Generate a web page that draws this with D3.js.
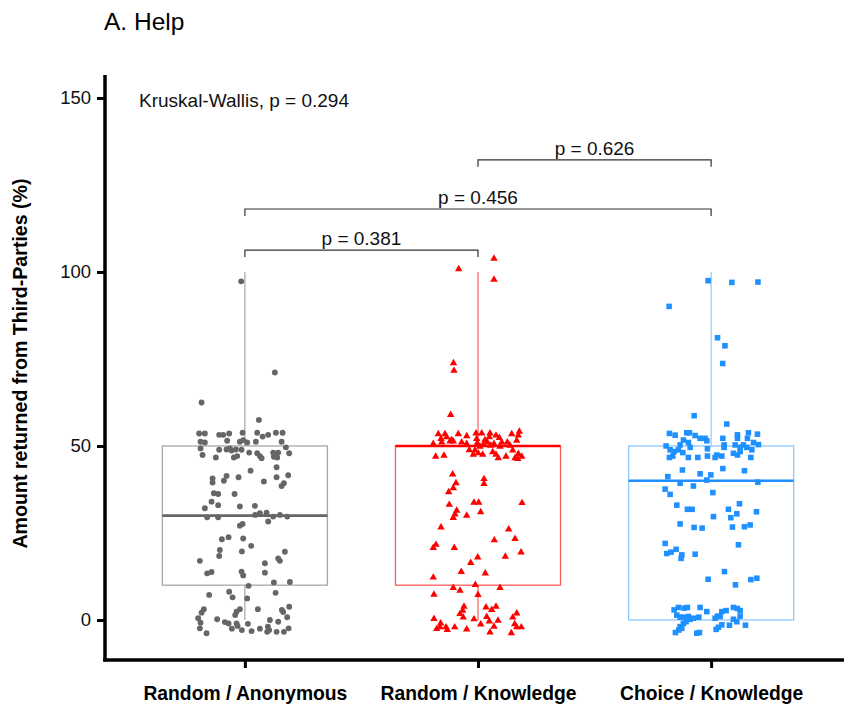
<!DOCTYPE html>
<html><head><meta charset="utf-8">
<script src="https://cdn.jsdelivr.net/npm/d3@7"></script>
<style>body{margin:0;background:#fff;} text{font-family:"Liberation Sans",Arial,Helvetica,sans-serif;}</style>
</head><body>
<svg id="chart" width="844" height="706"></svg>
<script>
// ---------- data ----------
const categories = ["Random / Anonymous", "Random / Knowledge", "Choice / Knowledge"];
const pointColors = ["#666666", "#FF0000", "#1E90FF"];
const boxColors = ["#a6a6a6", "#ff5c5c", "#8ec8ff"];
const boxLow = [0, 0, 0];
const boxQ1 = [10, 10, 0];
const boxMedian = [30, 50, 40];
const boxQ3 = [50, 50, 50];
const boxHigh = [100, 100, 100];
const yTicks = [0, 50, 100, 150];
const yLabel = "Amount returned from Third-Parties (%)";
const title = "A. Help";
const kruskal = "Kruskal-Wallis, p = 0.294";
// pairwise comparisons: [from, to, label, bracket height]
const comparisons = [[0, 1, "p = 0.381", 106.3], [0, 2, "p = 0.456", 118.1], [1, 2, "p = 0.626", 132.2]];

// points: [jitter (units: -50..50), value]
const pointsAnon = [[-3.7,97.3],[30,71.1],[-43.3,62.5],[14,57.5],[-45.7,53.6],[-40,53.6],[-25.7,53.2],[-21.7,53.2],[-15.7,53.6],[-2.3,53.8],[12.3,53.8],[17.7,52.7],[23.3,53.2],[31,53.8],[37.7,53.8],[-44.3,51.2],[-40,51.0],[-17.7,51.5],[-5,51.2],[-1.7,51.7],[2.3,51.0],[11,51.2],[36.7,51.2],[-44.3,49.3],[-25.7,48.9],[-18.3,49.0],[-15,49.3],[-9,49.0],[-3.3,48.9],[4.3,48.1],[12.3,47.9],[15,47.1],[28.3,48.1],[33.3,48.1],[41,49.6],[44.3,47.9],[-42.3,47.4],[-29,46.7],[-11,46.7],[-7.7,47.1],[16.7,46.5],[29,46.9],[32.3,46.7],[-13.3,48.7],
[31.7,43.9],[-32.3,40.7],[-32.3,39.5],[-18.3,41.4],[-21,40.0],[-6.3,41.0],[5.7,42.9],[19,39.8],[31.7,41.0],[43.3,41.6],[36.7,38.5],[39,39.3],[-31,36.4],[-26.7,36.2],[-10.3,36.2],[-33.3,34.0],[-26.7,33.0],[-40,32.1],[-5,32.6],[10,32.8],[-37.7,29.5],[-26.7,29.5],[10.3,30.2],[15,30.7],[21.7,30.8],[23.3,28.3],[28.3,29.7],[35,30.2],[42.3,29.7],
[-5,27.1],[-2.3,27.6],[-23,23.2],[-16.3,23.8],[-1.7,23.4],[6.3,21.3],[-25,20.1],[-25.7,18.4],[-3,19.7],[-45,17.0],[40,19.6],[33.3,17.7],[35,17.0],[-37.7,13.4],[-33.3,13.8],[-3.3,13.9],[-1.7,12.8],[20,16.3],[20,13.6],[29,10.8],[45,10.9],[3.7,9.8],[-35.7,7.2],[-15.7,8.1],[-12.3,6.5],[2.3,6.2],[30.7,7.8],
[-41,3.1],[-43.3,2.1],[-5,3.1],[-8.3,2.4],[-9.7,1.4],[13,3.1],[37,2.9],[38.3,2.3],[44.3,3.8],[-46.7,0.5],[-44.3,-0.8],[-27.7,0.2],[-20,-0.6],[-16.3,-1.0],[-8.3,-1.0],[-7.3,-1.7],[3,-1.1],[15,-2.5],[23,-1.9],[25,0],[33.3,-0.5],[42.3,0.8],[-45,-2.4],[-38.3,-3.8],[-13,-2.5],[-3,-2.9],[6.7,-3.2],[22.3,-3.4],[31.7,-3.4],[39,-3.4],[43.7,-2.4],[24.3,-2.9]];

const pointsRandKnow = [[16,104],[-19.3,101],[16,98],[-24.5,74],[-24,71.8],[-27.3,59.1],
[-39.7,53.6],[-33,53.6],[-19.7,53.6],[-11.3,53.0],[-2,53.8],[3.7,53.8],[12,53.8],[18,53.2],[33.7,53.6],[41.3,54.3],[-37,52.2],[-31.3,52.7],[-26.3,51.9],[-36.3,51.2],[-28,51.5],[-24.7,51.5],[-16.3,51.2],[-11.3,50.8],[-1.3,52.2],[7,51.9],[9.3,51.2],[11.3,52.7],[21.3,52.5],[23.7,51.2],[29.3,51.2],[38.7,51.7],[40.3,53.2],[-44.7,50.8],[-0.7,51.0],[2,50.0],[5.3,50.6],[12.7,50.3],[16,50.8],[22,50.0],[32,50.3],[-8.7,49.0],[-3,48.9],[0.3,48.1],[4.7,47.7],[14.7,48.4],[18,47.7],[20.3,46.7],[28,47.1],[34.7,48.9],[37,46.7],[40.3,47.9],[43.7,47.1],[-42.3,47.1],[-34,47.4],[-4.7,47.7],[39.7,46.5],
[-25.3,42.0],[6,40.7],[6,39.3],[-22,39.5],[-24.7,38.1],[-29.3,36.9],[-28.7,33.3],[-4,33.9],[0.7,33.9],[44,33.8],[-21.3,31.6],[2.7,31.2],[-23,30.5],[-24.7,29.5],[-11.3,30.2],[-37,26.8],[30.7,26.2],[37,23.5],[-42,21.8],[-44.7,20.9],[-23.7,20.9],[16.3,23.1],[43,19.6],[27.3,18.4],[-0.3,18.2],[-7.3,16.6],[-16.7,14.0],[7.3,13.6],[-44.7,12.4],
[-24.7,9.4],[-18,8.6],[-2.7,10.3],[22,9.4],[0,7.4],[-44,7.5],
[-14,4.0],[-15.3,2.9],[-18,1.9],[-14.7,0.9],[8,3.8],[18,4.0],[13.7,3.1],[8.7,1.1],[38.7,2.1],[34.7,0.9],[-44,0.5],[-37.3,-0.8],[-38,-1.9],[-32,-1.9],[-30.7,-2.7],[-41.3,-2.4],[-23.3,-1.9],[-11.3,-2.5],[-4,0.4],[2.7,-1.1],[11.3,-0.2],[20,0],[16,-1.7],[12,-3.4],[36.7,-1.0],[38.7,-1.9],[43.3,-1.9],[33.3,-3.6]];

const pointsChoiceKnow = [[-3,97.5],[20.7,97],[46.8,97.1],[-42,90.1],[6.4,81.1],[13.8,78.8],[11.6,73.7],[-17,58.7],[15.7,56.3],
[-41.7,53.6],[-36,53.1],[-24.3,53.8],[-21.7,53.8],[-16,53.0],[-11,52.2],[-6,52.2],[-4.3,51.5],[11.7,52.2],[26.3,53.2],[26.3,52.2],[37.3,53.8],[36.3,52.2],[46.3,53.4],[-27.7,51.7],[-22.7,51.0],[-31,50.3],[-45,50.0],[-41,48.9],[-37,48.4],[-32.7,48.9],[-28.3,48.1],[-21,49.6],[-3.7,49.2],[13,50.3],[13,49.6],[24,50.3],[29,49.6],[32.3,50.3],[35.7,49.6],[42.3,51.0],[47.3,50.4],[-41.7,46.7],[-38.3,47.1],[-22.7,46.7],[-13.3,46.7],[-3.7,47.1],[4,46.7],[5.7,47.4],[10.7,47.1],[22.3,47.9],[26.3,47.4],[40.7,48.9],[39.7,46.7],[29,48.4],
[-28.7,43.1],[-11,42.0],[-0.3,41.7],[-4.3,40.2],[11.7,43.5],[33.3,42.9],[-43.3,41.2],[-31,39.3],[-17.7,38.5],[46.7,39.6],[-46,37.6],[-41,36.1],[1.7,36.6],[-34.3,33.0],[-23.7,31.8],[-19,31.8],[17.3,31.8],[28.3,33.4],[2.3,29.7],[19.7,29.4],[25.7,30.5],[45.3,31.1],[-31,27.6],[-17,26.6],[-9,26.4],[21.3,26.7],[33.3,26.8],[39,27.3],[-46,22.0],[27.3,21.6],[-44.3,19.1],[-40,19.5],[-35,20.3],[-29.3,18.7],[-30,17.7],[-16,18.9],[13.3,13.9],[-3,11.7],[24.3,10.1],[39.7,11.6],[45.7,12.0],
[-37,2.9],[-32.7,3.6],[-27,3.4],[-23.7,3.6],[-11,3.6],[-4.3,2.4],[10.7,2.4],[15,2.7],[22.3,3.6],[26.3,3.3],[29,2.7],[29,1.1],[-34.3,1.4],[-31,0.8],[-27.7,0.8],[-22.7,1.0],[-21,0.2],[-17.7,0.5],[-12.3,0.8],[4,0.5],[6.3,1.1],[9,1.0],[22.3,0.2],[25.7,-0.5],[-27.7,-1.0],[-31,-1.9],[-32.3,-2.9],[-35.7,-3.6],[-29.3,-2.4],[-14.3,-3.8],[-11.7,-3.6],[5,-2.7],[7.3,-2.1],[10.7,-1.4],[18.3,-1.5],[34.3,-1.5],[-25,-0.5]];

const groups = [pointsAnon, pointsRandKnow, pointsChoiceKnow];
const shapes = [d3.symbolCircle, d3.symbolTriangle, d3.symbolSquare];
const shapeSizes = [27, 24, 31];

// ---------- layout ----------
const svg = d3.select("#chart");
const pLeft = 105, pRight = 851, pTop = 75, pBottom = 660;
const x = d3.scalePoint().domain(categories).range([pLeft, pRight]).padding(0.6);
const y = d3.scaleLinear().domain([-11.5, 156.6]).range([pBottom, pTop]);
const step = x.step();
const jitter = d3.scaleLinear().domain([-50, 50]).range([-0.2146 * step, 0.2146 * step]);
const boxHalf = 0.354 * step;
const fontStack = '"Liberation Sans",Arial,sans-serif';

// title
svg.append("text").attr("x", 104).attr("y", 30).attr("font-size", 24.5).attr("fill", "#000").text(title);

// y axis
const yAxis = svg.append("g").attr("transform", `translate(${pLeft},0)`)
  .call(d3.axisLeft(y).tickValues(yTicks).tickSize(8).tickPadding(6));
yAxis.select(".domain").remove();
yAxis.selectAll(".tick line").attr("stroke", "#000").attr("stroke-width", 3);
yAxis.selectAll(".tick text").attr("font-size", 18.5).attr("fill", "#111").style("font-family", fontStack);
svg.append("line").attr("x1", pLeft).attr("x2", pLeft).attr("y1", pTop).attr("y2", pBottom + 1.5)
  .attr("stroke", "#000").attr("stroke-width", 3.5);

// x axis
const xAxis = svg.append("g").attr("transform", `translate(0,${pBottom})`)
  .call(d3.axisBottom(x).tickSize(8));
xAxis.select(".domain").remove();
xAxis.selectAll(".tick line").attr("stroke", "#000").attr("stroke-width", 3);
xAxis.selectAll(".tick text").attr("y", 40).attr("dy", 0).attr("font-size", 19.3)
  .attr("font-weight", "bold").attr("fill", "#000").style("font-family", fontStack);
svg.append("line").attr("x1", pLeft - 1.75).attr("x2", pRight).attr("y1", pBottom).attr("y2", pBottom)
  .attr("stroke", "#000").attr("stroke-width", 3.5);

// y label
svg.append("text").attr("transform", `translate(27,${(pTop + pBottom) / 2 - 4}) rotate(-90)`)
  .attr("text-anchor", "middle").attr("font-size", 19.6).attr("font-weight", "bold").text(yLabel);

// boxes
const plot = svg.append("g");
categories.forEach((c, i) => {
  const cx = x(c);
  const g = plot.append("g");
  g.append("line").attr("x1", cx).attr("x2", cx).attr("y1", y(boxQ3[i])).attr("y2", y(boxHigh[i]))
    .attr("stroke", boxColors[i]).attr("stroke-width", 1.2);
  if (boxQ1[i] > boxLow[i]) g.append("line").attr("x1", cx).attr("x2", cx).attr("y1", y(boxQ1[i])).attr("y2", y(boxLow[i]))
    .attr("stroke", boxColors[i]).attr("stroke-width", 1.2);
  g.append("rect").attr("x", cx - boxHalf).attr("width", 2 * boxHalf)
    .attr("y", y(boxQ3[i])).attr("height", y(boxQ1[i]) - y(boxQ3[i]))
    .attr("fill", "none").attr("stroke", boxColors[i]).attr("stroke-width", 1.3);
  g.append("line").attr("x1", cx - boxHalf).attr("x2", cx + boxHalf).attr("y1", y(boxMedian[i])).attr("y2", y(boxMedian[i]))
    .attr("stroke", pointColors[i]).attr("stroke-width", 2.6);
});

// points
groups.forEach((pts, i) => {
  const cx = x(categories[i]);
  const sym = d3.symbol().type(shapes[i]).size(shapeSizes[i]);
  plot.append("g").selectAll("path").data(pts).join("path")
    .attr("d", sym)
    .attr("transform", d => `translate(${cx + jitter(d[0])},${y(d[1]) + (i === 1 ? 0.6 : 0)})`)
    .attr("fill", pointColors[i]);
});

// comparisons
comparisons.forEach(([a, b, label, h]) => {
  const x1 = x(categories[a]), x2 = x(categories[b]);
  const yy = y(h), tick = y(h - 2);
  svg.append("path").attr("d", `M${x1},${tick}V${yy}H${x2}V${tick}`)
    .attr("fill", "none").attr("stroke", "#333").attr("stroke-width", 1.2);
  svg.append("text").attr("x", (x1 + x2) / 2).attr("y", yy - 5).attr("text-anchor", "middle")
    .attr("font-size", 19).attr("fill", "#111").text(label);
});

// Kruskal-Wallis
svg.append("text").attr("x", 139).attr("y", 107).attr("font-size", 19).attr("fill", "#111").text(kruskal);
</script>
</body></html>
